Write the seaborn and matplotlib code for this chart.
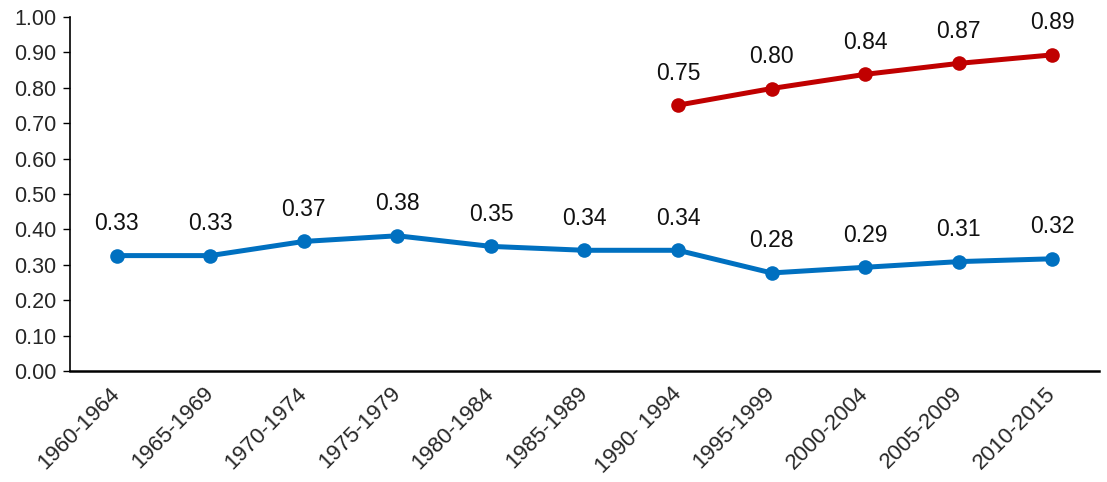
import matplotlib
matplotlib.use("Agg")
import matplotlib.pyplot as plt
import pandas as pd
import seaborn as sns

# ── Data ──────────────────────────────────────────────────────────────────────
periods = ["1960-1964", "1965-1969", "1970-1974", "1975-1979", "1980-1984",
           "1985-1989", "1990- 1994", "1995-1999", "2000-2004", "2005-2009",
           "2010-2015"]
blue_vals = [0.326, 0.326, 0.366, 0.382, 0.352, 0.341, 0.341, 0.277, 0.293, 0.309, 0.317]
red_periods = ["1990- 1994", "1995-1999", "2000-2004", "2005-2009", "2010-2015"]
red_vals = [0.751, 0.798, 0.838, 0.869, 0.893]

BLUE = "#0070C0"
RED = "#C00000"

df = pd.concat([
    pd.DataFrame({"period": periods, "value": blue_vals, "series": "blue"}),
    pd.DataFrame({"period": red_periods, "value": red_vals, "series": "red"}),
], ignore_index=True)

sns.set_style("white")
plt.rcParams["font.family"] = ["Liberation Sans", "DejaVu Sans"]

fig = plt.figure(figsize=(11.07, 4.82), dpi=100)
ax = fig.add_axes([0.0632, 0.2303, 0.9296, 0.7344])

sns.lineplot(
    data=df, x="period", y="value", hue="series", sort=False,
    palette={"blue": BLUE, "red": RED}, linewidth=3.6, marker="o",
    markersize=10.5, markeredgewidth=0, legend=False, ax=ax,
)

# data labels
for _, row in df.iterrows():
    xi = periods.index(row["period"])
    ax.annotate(f"{row['value']:.2f}", (xi, row["value"]), xytext=(0, 23),
                textcoords="offset points", ha="center", va="center",
                fontsize=16.5, color="#111111")

ax.set_xlim(-0.5, len(periods) - 0.5)
ax.set_ylim(0, 1.0)
ax.set_yticks([i / 10 for i in range(11)])
ax.set_yticklabels([f"{i / 10:.2f}" for i in range(11)], fontsize=15.5)
ax.set_xticks(range(len(periods)))
ax.set_xticklabels(periods, rotation=45, ha="right", va="center",
                   rotation_mode="anchor", fontsize=16)
ax.tick_params(axis="y", length=5, width=1, color="#000000", left=True, pad=5)
ax.tick_params(axis="x", length=0, pad=14)
ax.set_xlabel("")
ax.set_ylabel("")

sns.despine(ax=ax)
for side in ("left", "bottom"):
    ax.spines[side].set_color("#000000")
ax.spines["left"].set_linewidth(1.2)
ax.spines["bottom"].set_linewidth(1.8)

fig.savefig("out.png", dpi=100)
